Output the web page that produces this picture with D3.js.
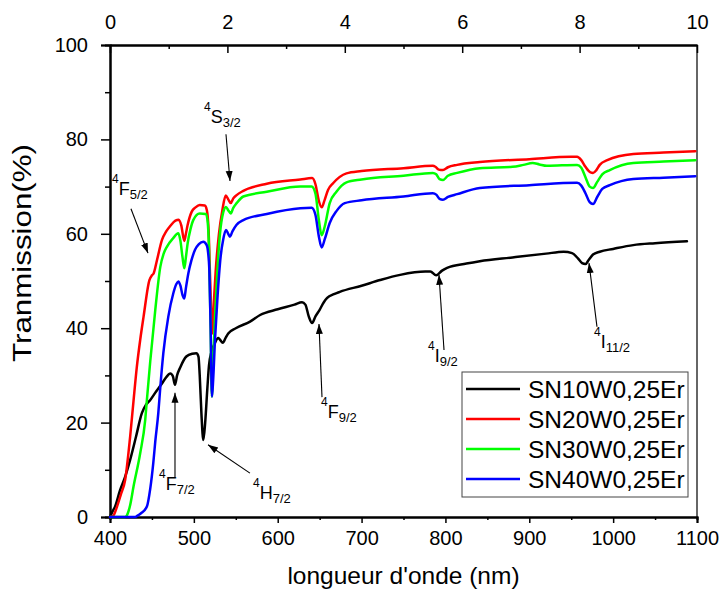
<!DOCTYPE html>
<html><head><meta charset="utf-8">
<script src="https://cdn.jsdelivr.net/npm/d3@7"></script>
<style>
body{margin:0;background:#fff}
text{font-family:"Liberation Sans",Arial,sans-serif;fill:#000}
</style>
</head><body>
<svg id="chart" width="720" height="591"></svg>
<script>
// ---------- data ----------
const seriesNames = ["SN10W0,25Er","SN20W0,25Er","SN30W0,25Er","SN40W0,25Er"];
const seriesColors = ["#000000","#ff0000","#00ff00","#0000ff"];

const sn10 = [[400,0],[403,1.2],[406,2.2],[412,5.7],[418,8.5],[424,12.1],[431,17],[438,22],[443,23.8],[448,24.8],[455,26.6],[462,28.3],[467,29.6],[472,30.4],[475,29.8],[477.5,28],[480,30],[484,31.8],[491,34],[498,34.6],[503,34.7],[505.5,34],[507,30],[509,22],[511.3,16.3],[513.5,20],[516,27],[518,32],[521,35],[525,36.8],[529,37.9],[531,37.6],[534.5,36.9],[538,38],[541,38.9],[550,40],[567,41.4],[579,42.8],[600,44],[620,45],[629,45.5],[633,45],[637,42.5],[641,41.1],[645,42.5],[650,43.9],[655,45.5],[659,46.4],[667,47.2],[674,47.7],[700,49],[722,50.2],[746,51.3],[776,52],[782,52],[789,51.2],[796,52.2],[802,52.8],[825,53.7],[841,54.2],[880,55],[920,55.8],[941,56.2],[951,55.9],[958,54.8],[963,53.8],[967,53.6],[971,54.5],[976,55.6],[984,56.2],[1000,56.8],[1024,57.6],[1050,58],[1088,58.4]];

const sn20 = [[400,0],[404,0.3],[408,2],[413,4.8],[418,7.8],[424,17],[428,24.5],[432,31.8],[436,37.5],[440,42.4],[447,50.2],[450,51.2],[452,51.6],[456,54.4],[462,58.7],[467,60.5],[472,61.7],[478,62.8],[482,63],[485,61.8],[488.6,58.5],[490.5,60],[492.5,61.8],[497.5,64.7],[502,65.6],[507,66.1],[513,66],[515.5,65],[517.5,61],[519.5,50],[522,38.9],[524,46],[526,52],[530,60.1],[534,65],[538,68.1],[541,67.3],[544,66.5],[547,67.5],[551,68.2],[559,69.1],[587,70.6],[627,71.5],[641,71.8],[645,70.5],[649,67],[652.5,65.6],[656,67.2],[660,69.3],[666,70.7],[682,72.8],[700,73.3],[750,73.9],[785,74.4],[788,74.2],[792,73.6],[797,73.5],[803,74.1],[814,74.6],[841,75.2],[900,75.8],[950,76.3],[957,76.3],[962,75.6],[967,74.2],[973,73],[976,72.9],[980,73.5],[984,74.6],[993,75.6],[1024,76.9],[1060,77.2],[1098,77.5]];

const sn30 = [[400,0],[418,0],[420,0.3],[424,2.5],[428,6.4],[436,13.5],[442,20.6],[444,24.8],[448,33],[454,43.9],[460,53],[464,55.8],[468,57.3],[475,59],[481.5,60.1],[484,58.5],[486.5,55],[488.6,52.7],[490.5,55],[492.6,58],[496,61],[499.3,62.9],[507,64.3],[514.5,64.2],[516.5,62.5],[518,57],[520,40],[521.5,25.5],[523,33],[525.2,42.4],[528,52],[531.2,60.1],[535,64.5],[538.3,65.7],[541,65],[544,64.3],[547,65.5],[551,66.5],[559,67.9],[587,68.9],[627,70],[640.5,70],[645,68.5],[649,63],[652.4,59.7],[656,61.5],[662,66.5],[670,68.9],[682,70.9],[700,71.5],[750,72.3],[785,72.9],[789,72.6],[793,71.6],[797,71.4],[803,72.3],[814,72.9],[841,73.9],[880,74.2],[893,74.6],[904,75],[912,74.7],[921,74.4],[957,74.6],[962,74],[967,72],[972,70],[976,69.7],[981,71],[987,72.6],[996,73.5],[1024,75],[1060,75.3],[1098,75.6]];

const sn40 = [[400,0],[430,0],[432,0.2],[437,0.8],[444,2.2],[448,6],[451.6,11.4],[454,16],[457.6,22],[460,27.5],[463.6,34.7],[469.5,42.4],[475.5,47.4],[479,49.3],[481.5,49.9],[484,49],[486.5,47],[488.6,46.3],[490.5,48.5],[493.4,51.6],[497,54.3],[501.4,56.6],[506,57.8],[511.3,58.3],[515.3,57.6],[517,56],[518.5,52],[520,40],[521.6,25.5],[523,29],[525.2,37.5],[528,46],[531.9,55.1],[535,58.8],[538.3,60.8],[541,60],[543,59.4],[546,60.5],[551,61.9],[559,62.9],[587,64.2],[627,65.4],[640.5,65.5],[645,64],[649,59.5],[652.4,57.1],[656,58.8],[662,62.3],[670,64.8],[680,66.5],[700,67.1],[750,67.9],[785,68.6],[789,68.3],[793,67.4],[797,67.2],[803,67.8],[814,68.4],[841,69.7],[900,70.3],[957,70.8],[962,70.2],[967,68.6],[972,66.7],[976,66.3],[981,67.8],[987,69.5],[996,70.3],[1024,71.6],[1060,71.9],[1098,72.2]];

const xTicks = [400,500,600,700,800,900,1000,1100];
const xMinorTicks = [450,550,650,750,850,950,1050];
const yTicks = [0,20,40,60,80,100];
const yMinorTicks = [10,30,50,70,90];
const topTicks = [0,2,4,6,8,10];
const topMinorTicks = [1,3,5,7,9];

// annotation labels: superscript, main letter, subscript, anchor (nm, %)
const annSup  = ["4","4","4","4","4","4","4"];
const annMain = ["F","S","F","H","F","I","I"];
const annSub  = ["5/2","3/2","7/2","7/2","9/2","9/2","11/2"];
const annX    = [402.4,512.1,458.4,570.5,651.6,779.2,977.1];
const annY    = [68.2,83.5,5.7,3.8,21.0,32.8,35.8];
// arrows: from (x1,y1) to tip (x2,y2) in data units
const arrows = [[425,65.3,445.3,55.9],[538.3,81.1,543.1,71.2],[477.5,8.5,477.5,26.3],[566.9,9.3,516.9,15.3],[652.8,25.4,649.2,40.9],[798.3,35.4,792.3,51.3],[980.7,40.3,971.2,53.8]];

// ---------- chart ----------
const svg = d3.select("#chart");
const L = 110, R = 697, T = 45, B = 517;
const x = d3.scaleLinear().domain([400,1100]).range([L,R]);
const xTop = d3.scaleLinear().domain([0,10]).range([L,R]);
const y = d3.scaleLinear().domain([0,100]).range([B,T]);

const defs = svg.append("defs");
defs.append("marker").attr("id","ah").attr("viewBox","0 0 10 10")
  .attr("refX",10).attr("refY",5).attr("markerWidth",10).attr("markerHeight",10)
  .attr("markerUnits","userSpaceOnUse").attr("orient","auto")
  .append("path").attr("d","M0,1.5 L10,5 L0,8.5 Z").attr("fill","#000");

// right border
svg.append("line").attr("x1",R).attr("x2",R).attr("y1",T).attr("y2",B)
  .attr("stroke","#666").attr("stroke-width",2);

function styleAxis(g){
  g.select(".domain").attr("stroke","#000").attr("stroke-width",2);
  g.selectAll(".tick line").attr("stroke","#000").attr("stroke-width",1.5);
  g.selectAll("text").attr("font-size",20).attr("font-family","'Liberation Sans',Arial,sans-serif");
}

// bottom axis
svg.append("g").attr("transform",`translate(0,${B})`)
  .call(d3.axisBottom(x).tickValues(xMinorTicks).tickSize(3).tickFormat(""))
  .call(styleAxis);
svg.append("g").attr("transform",`translate(0,${B})`)
  .call(d3.axisBottom(x).tickValues(xTicks).tickSize(6).tickPadding(8).tickFormat(d3.format("d")))
  .call(styleAxis);

// top axis (inward ticks)
svg.append("g").attr("transform",`translate(0,${T})`)
  .call(d3.axisTop(xTop).tickValues(topMinorTicks).tickSizeInner(-4).tickSizeOuter(0).tickFormat(""))
  .call(styleAxis);
svg.append("g").attr("transform",`translate(0,${T})`)
  .call(d3.axisTop(xTop).tickValues(topTicks).tickSizeInner(-8).tickSizeOuter(0).tickPadding(16).tickFormat(d3.format("d")))
  .call(styleAxis);

// left axis
svg.append("g").attr("transform",`translate(${L},0)`)
  .call(d3.axisLeft(y).tickValues(yMinorTicks).tickSize(5).tickFormat(""))
  .call(styleAxis);
svg.append("g").attr("transform",`translate(${L},0)`)
  .call(d3.axisLeft(y).tickValues(yTicks).tickSize(9).tickPadding(13).tickFormat(d3.format("d")))
  .call(styleAxis);

// lines
const line = d3.line().x(d=>x(d[0])).y(d=>y(d[1])).curve(d3.curveMonotoneX);
const allSeries = [sn10,sn20,sn30,sn40];
allSeries.forEach((s,i)=>{
  svg.append("path").datum(s).attr("d",line).attr("fill","none")
    .attr("stroke",seriesColors[i]).attr("stroke-width",2.5)
    .attr("stroke-linejoin","round").attr("stroke-linecap","round");
});

// arrows
svg.append("g").selectAll("line").data(arrows).join("line")
  .attr("x1",d=>x(d[0])).attr("y1",d=>y(d[1]))
  .attr("x2",d=>x(d[2])).attr("y2",d=>y(d[3]))
  .attr("stroke","#000").attr("stroke-width",1.1).attr("marker-end","url(#ah)");

// annotation labels
annMain.forEach((m,i)=>{
  const t = svg.append("text").attr("x",x(annX[i])).attr("y",y(annY[i]));
  t.append("tspan").attr("font-size",12).attr("dy",-12).text(annSup[i]);
  t.append("tspan").attr("font-size",18).attr("dy",12).text(m);
  t.append("tspan").attr("font-size",13).attr("dy",4).text(annSub[i]);
});

// legend
const lg = svg.append("g");
lg.append("rect").attr("x",462).attr("y",372).attr("width",226).attr("height",125)
  .attr("fill","#fff").attr("stroke","#444").attr("stroke-width",1);
seriesNames.forEach((n,i)=>{
  const cy = 389 + i*30;
  lg.append("line").attr("x1",466).attr("x2",520).attr("y1",cy).attr("y2",cy)
    .attr("stroke",seriesColors[i]).attr("stroke-width",2.5);
  lg.append("text").attr("x",528).attr("y",cy+9).attr("font-size",24.5).text(n);
});

// axis titles
svg.append("text").attr("x",(L+R)/2).attr("y",584).attr("text-anchor","middle")
  .attr("font-size",24.5).text("longueur d'onde (nm)");
svg.append("text").attr("transform","translate(31,253) rotate(-90)").attr("text-anchor","middle")
  .attr("font-size",25).attr("textLength",218).attr("lengthAdjust","spacingAndGlyphs")
  .text("Tranmission(%)");
</script>
</body></html>
